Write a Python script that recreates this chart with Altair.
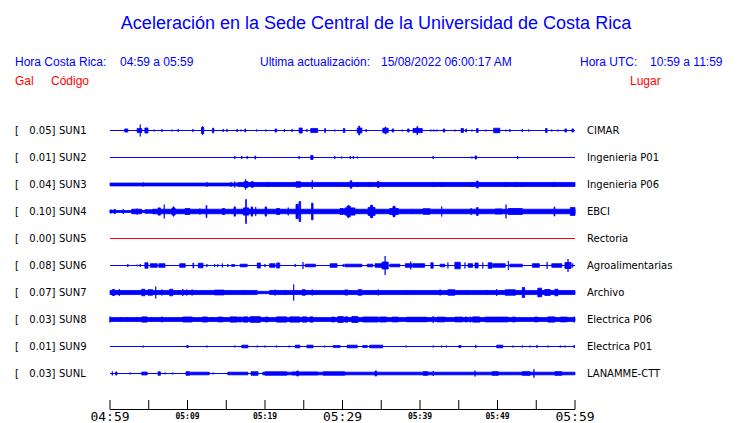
import altair as alt
import pandas as pd

TITLE = "Aceleración en la Sede Central de la Universidad de Costa Rica"
HEAD_LOCAL = ["Hora Costa Rica:", "04:59 a 05:59"]
HEAD_UPDATE = ["Ultima actualización:", "15/08/2022 06:00:17 AM"]
HEAD_UTC = ["Hora UTC:", "10:59 a 11:59"]
COL_HEADS = ["Gal", "Código", "Lugar"]

codes = ["SUN1", "SUN2", "SUN3", "SUN4", "SUN5", "SUN6", "SUN7", "SUN8", "SUN9", "SUNL"]
peaks = [0.05, 0.01, 0.04, 0.10, 0.00, 0.08, 0.07, 0.03, 0.01, 0.03]
places = ["CIMAR", "Ingenieria P01", "Ingenieria P06", "EBCI", "Rectoria",
          "Agroalimentarias", "Archivo", "Electrica P06", "Electrica P01", "LANAMME-CTT"]

# time axis (minutes after 04:59)
tick_minutes = [0, 5, 10, 15, 20, 25, 30, 35, 40, 45, 50, 55, 60]
label_minutes = [0, 10, 20, 30, 40, 50, 60]
label_texts = ["04:59", "05:09", "05:19", "05:29", "05:39", "05:49", "05:59"]

# trace envelopes: [start minute, end minute, half amplitude in gal]
sun1 = [[1.9, 2.3, 0.013], [3.5, 4.1, 0.017], [3.9, 3.9, 0.05], [4.5, 4.9, 0.021], [5.7, 5.7, 0.008],
        [6.7, 6.7, 0.013], [8.0, 8.0, 0.008], [8.8, 8.8, 0.013], [10.7, 10.7, 0.013], [11.8, 12.1, 0.025],
        [11.9, 12.0, 0.033], [13.2, 13.4, 0.019], [14.6, 14.6, 0.013], [15.1, 15.1, 0.013], [16.4, 16.4, 0.013],
        [16.9, 16.9, 0.008], [17.4, 17.5, 0.013], [18.9, 18.9, 0.008], [20.1, 20.1, 0.008], [21.3, 21.5, 0.013],
        [22.5, 22.5, 0.013], [23.5, 23.5, 0.013], [24.4, 24.8, 0.021], [25.4, 25.4, 0.013], [25.9, 26.8, 0.017],
        [27.7, 27.8, 0.017], [29.0, 29.0, 0.008], [30.1, 30.3, 0.017], [31.9, 32.5, 0.021], [32.1, 32.2, 0.038],
        [33.0, 33.1, 0.008], [35.2, 35.9, 0.019], [35.5, 35.6, 0.029], [36.4, 36.6, 0.013], [37.7, 37.7, 0.008],
        [38.4, 38.6, 0.013], [39.1, 40.3, 0.017], [39.6, 39.7, 0.033], [41.4, 41.4, 0.008], [41.8, 41.8, 0.008],
        [42.2, 42.2, 0.008], [43.0, 43.2, 0.013], [44.5, 44.5, 0.008], [45.3, 45.6, 0.017], [45.9, 46.0, 0.013],
        [46.7, 46.7, 0.008], [47.3, 47.5, 0.017], [48.5, 48.5, 0.008], [49.5, 50.3, 0.019], [51.1, 51.1, 0.008],
        [51.6, 51.6, 0.013], [53.2, 53.2, 0.013], [54.0, 54.0, 0.008], [56.2, 56.4, 0.017], [57.0, 57.0, 0.008],
        [57.8, 57.8, 0.008], [58.7, 58.9, 0.013], [59.6, 59.8, 0.013]]
sun2 = [[16.1, 16.1, 0.013], [17.0, 17.0, 0.013], [17.7, 17.7, 0.013], [18.7, 18.8, 0.013], [24.4, 24.4, 0.013],
        [25.9, 26.2, 0.017], [29.0, 29.0, 0.013], [29.9, 29.9, 0.008], [31.0, 31.0, 0.013], [31.4, 31.4, 0.013],
        [31.9, 31.9, 0.008], [41.7, 41.7, 0.013], [46.7, 46.7, 0.008], [47.1, 47.3, 0.013], [52.6, 52.6, 0.013]]
sun3 = [[0.0, 16.5, 0.012], [16.5, 60.0, 0.017],
        [4.3, 4.3, 0.017], [12.5, 12.5, 0.021], [15.6, 15.6, 0.021], [16.1, 16.1, 0.025], [17.3, 17.8, 0.025],
        [17.5, 17.5, 0.044], [18.2, 18.5, 0.023], [20.4, 20.4, 0.021], [21.7, 21.7, 0.017], [24.0, 24.6, 0.023],
        [26.1, 26.1, 0.036], [31.0, 31.2, 0.031], [32.0, 32.0, 0.021], [33.5, 33.5, 0.021], [34.5, 34.7, 0.025],
        [41.7, 41.7, 0.021], [42.8, 42.8, 0.021], [46.7, 46.7, 0.021], [47.3, 47.5, 0.029], [51.0, 51.0, 0.021],
        [52.3, 52.3, 0.021], [52.6, 52.6, 0.021], [53.2, 53.2, 0.021], [57.3, 57.3, 0.021]]
sun4 = [[0.0, 5.5, 0.008], [5.5, 60.0, 0.019],
        [0.0, 0.3, 0.013], [0.5, 0.7, 0.017], [1.7, 1.7, 0.021], [2.8, 4.1, 0.019], [3.5, 3.5, 0.025],
        [4.5, 5.8, 0.015], [6.2, 6.5, 0.03], [7.0, 7.0, 0.058], [8.0, 8.4, 0.03], [8.2, 8.2, 0.042],
        [9.7, 10.3, 0.025], [11.6, 11.6, 0.025], [12.4, 12.5, 0.05], [14.5, 14.8, 0.025], [16.0, 16.2, 0.035],
        [16.1, 16.1, 0.042], [17.0, 17.0, 0.021], [17.2, 17.9, 0.03], [17.5, 17.6, 0.1], [18.2, 18.4, 0.035],
        [18.3, 18.3, 0.042], [18.8, 18.8, 0.038], [20.0, 20.2, 0.035], [20.1, 20.1, 0.042], [21.5, 21.9, 0.025],
        [23.0, 23.0, 0.033], [24.0, 24.3, 0.06], [24.4, 24.6, 0.083], [26.0, 26.2, 0.069], [29.7, 30.1, 0.025],
        [30.3, 31.6, 0.03], [30.6, 31.0, 0.045], [30.7, 30.8, 0.05], [33.3, 34.2, 0.033], [33.6, 33.9, 0.05],
        [33.7, 33.8, 0.054], [36.1, 37.2, 0.025], [36.5, 36.8, 0.04], [36.6, 36.7, 0.046], [38.9, 39.0, 0.017],
        [40.4, 41.3, 0.023], [42.8, 42.8, 0.042], [46.6, 46.6, 0.029], [47.3, 47.5, 0.033], [49.7, 50.6, 0.021],
        [51.1, 51.1, 0.058], [51.4, 53.2, 0.025], [54.5, 54.5, 0.017], [55.5, 55.5, 0.017], [57.3, 57.4, 0.038],
        [59.4, 60.0, 0.033]]
sun5 = []
sun6 = [[2.3, 2.3, 0.013], [3.5, 3.5, 0.008], [3.9, 3.9, 0.013], [4.5, 4.9, 0.023], [5.2, 6.1, 0.015],
        [6.3, 7.1, 0.015], [9.0, 9.7, 0.015], [10.7, 10.8, 0.021], [11.4, 12.0, 0.019], [12.5, 12.5, 0.013],
        [13.5, 13.5, 0.013], [13.9, 13.9, 0.013], [14.5, 14.5, 0.017], [15.2, 15.2, 0.013], [15.7, 16.1, 0.008],
        [16.8, 17.7, 0.011], [19.0, 19.4, 0.021], [20.0, 20.0, 0.013], [20.6, 21.3, 0.015], [21.5, 21.9, 0.021],
        [23.9, 23.9, 0.013], [24.9, 24.9, 0.029], [25.2, 26.5, 0.011], [28.4, 29.3, 0.015], [30.1, 30.1, 0.013],
        [30.3, 32.5, 0.011], [33.2, 33.9, 0.011], [34.2, 35.1, 0.015], [35.1, 35.9, 0.029], [35.5, 35.5, 0.079],
        [36.1, 37.4, 0.011], [38.1, 39.0, 0.015], [38.8, 38.8, 0.033], [39.1, 40.6, 0.015], [41.4, 41.7, 0.023],
        [42.6, 43.2, 0.011], [43.6, 43.6, 0.025], [44.5, 45.2, 0.027], [45.8, 45.8, 0.025], [46.2, 46.8, 0.015],
        [47.1, 47.5, 0.021], [48.1, 48.1, 0.025], [48.8, 49.3, 0.023], [49.4, 51.0, 0.015], [51.4, 51.4, 0.038],
        [51.6, 53.2, 0.011], [54.5, 55.4, 0.015], [56.4, 56.4, 0.029], [57.0, 58.3, 0.015], [58.7, 59.5, 0.025],
        [59.1, 59.1, 0.054], [59.7, 59.7, 0.017]]
sun7 = [[0.0, 19.0, 0.017], [19.0, 20.6, 0.01], [20.6, 60.0, 0.017],
        [0.3, 0.6, 0.025], [1.2, 1.2, 0.029], [4.1, 4.5, 0.027], [4.9, 5.5, 0.023], [5.9, 5.9, 0.05],
        [6.7, 6.7, 0.025], [7.7, 8.1, 0.027], [9.4, 9.4, 0.029], [9.9, 9.9, 0.025], [10.6, 10.6, 0.025],
        [13.5, 14.7, 0.02], [17.2, 17.2, 0.021], [21.3, 21.3, 0.025], [22.6, 22.6, 0.021], [23.7, 23.7, 0.067],
        [24.8, 25.2, 0.023], [26.1, 26.1, 0.025], [30.3, 30.7, 0.021], [32.0, 32.5, 0.023], [34.6, 34.6, 0.025],
        [38.1, 38.1, 0.017], [42.6, 42.6, 0.025], [43.6, 44.5, 0.023], [46.1, 46.1, 0.021], [48.6, 48.6, 0.021],
        [49.9, 49.9, 0.029], [51.0, 52.3, 0.023], [53.2, 53.5, 0.042], [55.2, 55.7, 0.036], [56.1, 56.8, 0.025],
        [57.4, 57.8, 0.027]]
sun8 = [[0.0, 60.0, 0.016],
        [0.0, 0.0, 0.025], [1.3, 1.3, 0.021], [2.3, 2.3, 0.021], [3.5, 3.5, 0.021], [4.1, 4.8, 0.022],
        [5.4, 5.4, 0.021], [6.7, 6.7, 0.025], [9.4, 10.6, 0.021], [11.9, 12.6, 0.021], [13.2, 13.2, 0.021],
        [13.9, 14.6, 0.02], [15.5, 16.4, 0.022], [16.5, 17.0, 0.02], [17.2, 17.8, 0.022], [18.1, 19.4, 0.024],
        [20.0, 20.4, 0.02], [21.5, 22.8, 0.022], [23.2, 24.5, 0.022], [24.8, 25.4, 0.022], [25.8, 26.2, 0.022],
        [28.6, 29.0, 0.02], [29.4, 30.1, 0.025], [30.3, 30.7, 0.022], [31.2, 32.0, 0.025], [32.6, 34.6, 0.021],
        [34.8, 35.7, 0.021], [36.4, 37.2, 0.02], [38.3, 40.9, 0.019], [41.7, 41.7, 0.029], [42.2, 43.2, 0.02],
        [44.5, 45.5, 0.02], [45.8, 46.1, 0.02], [46.5, 46.5, 0.025], [46.8, 47.7, 0.022], [48.4, 51.4, 0.02],
        [51.9, 52.3, 0.02], [54.8, 55.2, 0.02], [56.5, 57.4, 0.022], [58.1, 59.0, 0.02], [59.9, 59.9, 0.025]]
sun9 = [[4.3, 4.3, 0.008], [9.9, 10.1, 0.008], [12.5, 12.5, 0.008], [16.1, 16.1, 0.008], [17.0, 17.8, 0.011],
        [19.0, 19.0, 0.008], [20.0, 20.0, 0.008], [21.5, 21.5, 0.008], [23.1, 23.1, 0.008], [23.9, 24.5, 0.011],
        [25.4, 26.2, 0.011], [27.7, 27.7, 0.008], [28.8, 29.7, 0.008], [30.6, 31.9, 0.011], [32.6, 33.2, 0.008],
        [33.5, 35.2, 0.011], [38.2, 38.2, 0.008], [41.7, 41.7, 0.008], [42.8, 42.8, 0.008], [43.4, 43.4, 0.008],
        [45.0, 45.3, 0.008], [47.2, 47.2, 0.013], [49.9, 50.7, 0.011], [52.0, 52.0, 0.008], [53.2, 53.2, 0.008],
        [54.2, 54.2, 0.008], [55.1, 55.1, 0.013], [56.5, 56.5, 0.008], [58.1, 58.1, 0.008], [58.7, 58.7, 0.008],
        [59.9, 59.9, 0.013]]
sunl = [[19.7, 60.0, 0.011],
        [0.3, 0.3, 0.017], [0.7, 0.9, 0.013], [2.6, 2.6, 0.008], [4.1, 4.8, 0.012], [6.2, 6.5, 0.015],
        [7.1, 7.1, 0.008], [8.1, 8.1, 0.008], [9.8, 10.3, 0.015], [10.4, 12.8, 0.011], [13.3, 13.3, 0.008],
        [15.2, 16.1, 0.011], [16.1, 17.8, 0.011], [18.2, 19.1, 0.015], [20.0, 22.8, 0.014], [23.5, 26.8, 0.012],
        [24.1, 24.3, 0.021], [27.5, 30.3, 0.014], [34.2, 34.4, 0.021], [40.4, 41.0, 0.015], [41.7, 41.7, 0.021],
        [47.1, 47.1, 0.025], [49.3, 50.1, 0.015], [53.2, 54.2, 0.015], [54.7, 54.7, 0.036], [57.4, 58.3, 0.015]]
all_segments = [sun1, sun2, sun3, sun4, sun5, sun6, sun7, sun8, sun9, sunl]

# ---- layout ----
ROW_GAP = 0.225              # gal between trace baselines
Y_TOP = 0.1125
Y_BOTTOM = Y_TOP - 292 / 120.0
BLUE, RED = "#0000ff", "#ff0000"

seg_rows = []
for i, segs in enumerate(all_segments):
    c = -i * ROW_GAP
    for t0, t1, a in segs:
        seg_rows.append({"code": codes[i], "t0": t0, "t1": t1, "ylo": c - a, "yhi": c + a})
seg_df = pd.DataFrame(seg_rows)

st_df = pd.DataFrame({
    "code": codes, "peak": peaks, "place": places,
    "peak_txt": [f"{p:.2f}]" for p in peaks],
    "yc": [-i * ROW_GAP for i in range(len(codes))],
    "t0": [0.0] * len(codes), "t1": [60.0] * len(codes),
})

xs = alt.Scale(domain=[0, 60], nice=False, zero=False)
ys = alt.Scale(domain=[Y_BOTTOM, Y_TOP], nice=False, zero=False)

base_lines = alt.Chart(st_df).mark_rule(strokeWidth=1.2).encode(
    x=alt.X("t0:Q", scale=xs, axis=None), x2="t1:Q",
    y=alt.Y("yc:Q", scale=ys, axis=None),
    color=alt.condition(alt.datum.peak == 0, alt.value(RED), alt.value(BLUE)),
)

bursts = alt.Chart(seg_df).mark_rect(color=BLUE, stroke=BLUE, strokeWidth=0.8).encode(
    x=alt.X("t0:Q", scale=xs, axis=None), x2="t1:Q",
    y=alt.Y("ylo:Q", scale=ys, axis=None), y2="yhi:Q",
)

LABEL_FONT = "DejaVu Sans"
bracket = alt.Chart(st_df).mark_text(font=LABEL_FONT, fontSize=10, align="left", baseline="middle", color="black").encode(
    y=alt.Y("yc:Q", scale=ys, axis=None), x=alt.value(-95), text=alt.value("["))
peak_lbl = alt.Chart(st_df).mark_text(font=LABEL_FONT, fontSize=10, align="right", baseline="middle", color="black").encode(
    y=alt.Y("yc:Q", scale=ys, axis=None), x=alt.value(-54.5), text="peak_txt:N")
code_lbl = alt.Chart(st_df).mark_text(font=LABEL_FONT, fontSize=10, align="left", baseline="middle", color="black").encode(
    y=alt.Y("yc:Q", scale=ys, axis=None), x=alt.value(-51), text="code:N")
place_lbl = alt.Chart(st_df).mark_text(font=LABEL_FONT, fontSize=10, align="left", baseline="middle", color="black").encode(
    y=alt.Y("yc:Q", scale=ys, axis=None), x=alt.value(477), text="place:N")

tick_df = pd.DataFrame({"m": tick_minutes})
ticks = alt.Chart(tick_df).mark_rule(color="black", strokeWidth=1).encode(
    x=alt.X("m:Q", scale=xs, axis=None), y=alt.value(283), y2=alt.value(292.5))
axis_line = alt.Chart(pd.DataFrame({"t0": [0.0], "t1": [60.0]})).mark_rule(color="black", strokeWidth=1.1).encode(
    x=alt.X("t0:Q", scale=xs, axis=None), x2="t1:Q", y=alt.value(292.5))

lab_df = pd.DataFrame({"m": label_minutes, "lab": label_texts})
lab_df["major"] = lab_df["m"].isin([0, 30, 60])
big_labels = alt.Chart(lab_df).transform_filter("datum.major").mark_text(
    font="DejaVu Sans Mono", fontSize=13, baseline="middle", color="black").encode(
    x=alt.X("m:Q", scale=xs, axis=None), y=alt.value(299.5), text="lab:N")
small_labels = alt.Chart(lab_df).transform_filter("!datum.major").mark_text(
    font="DejaVu Sans Mono", fontSize=8, fontWeight="bold", baseline="middle", color="black").encode(
    x=alt.X("m:Q", scale=xs, axis=None), y=alt.value(299.5), text="lab:N")

HEAD_FONT = "Liberation Sans"


def txt(s, x, y, size=12, color=BLUE, align="left"):
    return alt.Chart(pd.DataFrame({"s": [s]})).mark_text(
        font=HEAD_FONT, fontSize=size, align=align, baseline="middle", color=color
    ).encode(text="s:N", x=alt.value(x), y=alt.value(y))


texts = [
    txt(TITLE, 266, -93, size=18, align="center"),
    txt(HEAD_LOCAL[0], -95, -55), txt(HEAD_LOCAL[1], 10, -55),
    txt(HEAD_UPDATE[0], 150, -55), txt(HEAD_UPDATE[1], 271, -55),
    txt(HEAD_UTC[0], 470, -55), txt(HEAD_UTC[1], 540, -55),
    txt(COL_HEADS[0], -95, -36, color=RED), txt(COL_HEADS[1], -59, -36, color=RED),
    txt(COL_HEADS[2], 520, -36, color=RED),
]

chart = alt.layer(
    base_lines, bursts, bracket, peak_lbl, code_lbl, place_lbl,
    ticks, axis_line, big_labels, small_labels, *texts
).properties(
    width=465, height=292,
    autosize=alt.AutoSizeParams(type="none"),
    padding={"left": 102, "top": 109, "right": 157, "bottom": 14},
    background="white",
).configure_view(stroke=None)

chart.save("out.html", embed_options={"renderer": "svg", "actions": False})
